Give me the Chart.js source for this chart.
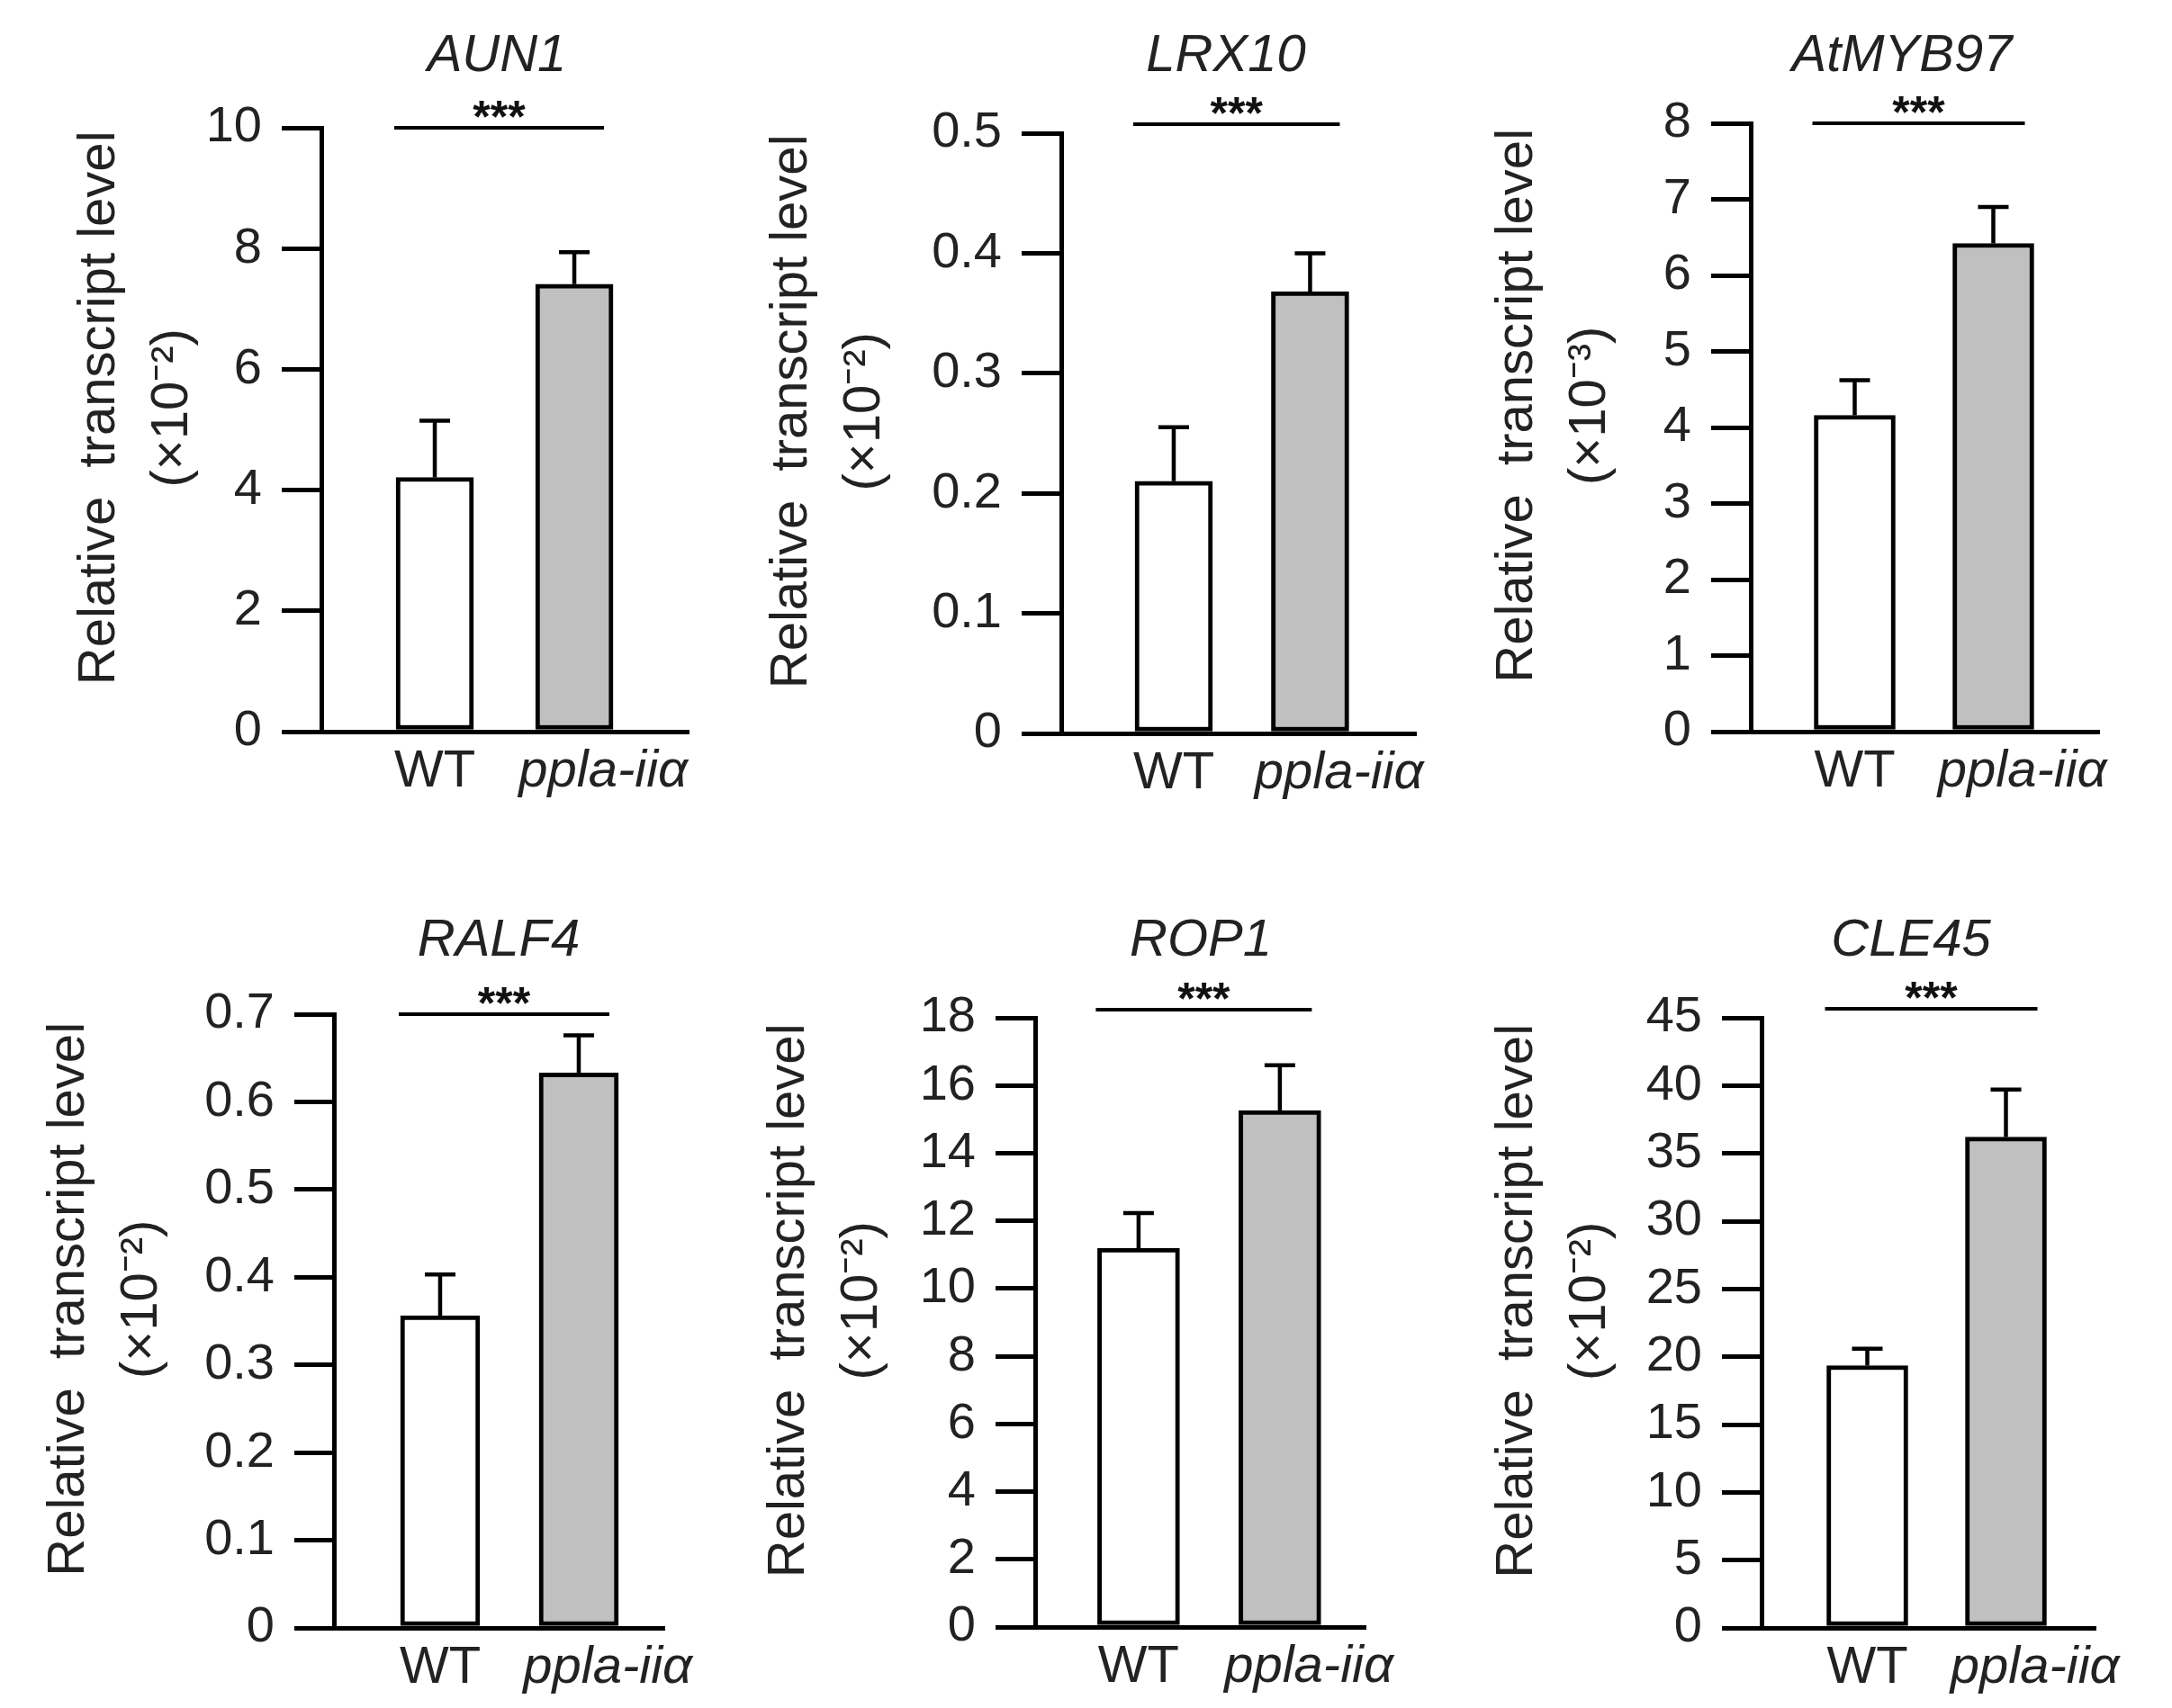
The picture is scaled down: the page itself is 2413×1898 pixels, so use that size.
<!DOCTYPE html>
<html>
<head>
<meta charset="utf-8">
<script src="https://cdn.jsdelivr.net/npm/chart.js@4.4.1/dist/chart.umd.min.js"></script>
<style>
html,body{margin:0;padding:0;background:#fff;}
#wrap{position:relative;width:2413px;height:1898px;overflow:hidden;background:#fff;}
canvas{position:absolute;}
</style>
</head>
<body>
<div id="wrap"></div>
<script>
// ---------------- DATA ----------------
const genes = ['AUN1', 'LRX10', 'AtMYB97', 'RALF4', 'ROP1', 'CLE45'];
const groups = ['WT', 'ppla-iiα'];
const wtMean  = [4.21, 0.21, 4.16, 0.356, 11.19, 19.35];
const wtErr   = [0.94, 0.045, 0.46, 0.047, 1.04, 1.25];
const mutMean = [7.41, 0.368, 6.42, 0.633, 15.26, 36.2];
const mutErr  = [0.53, 0.032, 0.48, 0.043, 1.34, 3.5];
const significance = ['***', '***', '***', '***', '***', '***'];
const yTicks = [
  [0, 2, 4, 6, 8, 10],
  [0, 0.1, 0.2, 0.3, 0.4, 0.5],
  [0, 1, 2, 3, 4, 5, 6, 7, 8],
  [0, 0.1, 0.2, 0.3, 0.4, 0.5, 0.6, 0.7],
  [0, 2, 4, 6, 8, 10, 12, 14, 16, 18],
  [0, 5, 10, 15, 20, 25, 30, 35, 40, 45]
];
const yTickLabels = [
  ['0', '2', '4', '6', '8', '10'],
  ['0', '0.1', '0.2', '0.3', '0.4', '0.5'],
  ['0', '1', '2', '3', '4', '5', '6', '7', '8'],
  ['0', '0.1', '0.2', '0.3', '0.4', '0.5', '0.6', '0.7'],
  ['0', '2', '4', '6', '8', '10', '12', '14', '16', '18'],
  ['0', '5', '10', '15', '20', '25', '30', '35', '40', '45']
];
const yTitle = 'Relative  transcript level';
const yUnits = ['(×10⁻²)', '(×10⁻²)', '(×10⁻³)', '(×10⁻²)', '(×10⁻²)', '(×10⁻²)'];

// ---------------- LAYOUT (pixels, not data) ----------------
const canvasBox = [[0,0,800,960],[800,0,800,960],[1600,0,813,960],[0,960,800,938],[800,960,800,938],[1600,960,813,938]];
const plotBox = [
  {axisX:357, right:765, top:142, bottom:813},
  {axisX:379, right:773, top:148, bottom:815},
  {axisX:345, right:732, top:137, bottom:813},
  {axisX:371, right:738, top:167, bottom:849},
  {axisX:350, right:717, top:171, bottom:848},
  {axisX:357, right:728, top:171, bottom:849}
];
const xRange = [[0.187,2.819],[0.175,2.776],[0.25,2.763],[0.234,2.617],[0.268,2.606],[0.237,2.646]];
const barWidth = [86, 86, 90, 88, 91, 90];
const titlePos = [[552,79],[562,79],[513,79],[554,102],[534,102],[523,102]];
const sigOffset = [0, 10, 0, 0, 9, 10];
const yTitlePad = [70, 39, 45, 36, 36, 45];

const FONT = '"Liberation Sans", Arial, Helvetica, sans-serif';
Chart.defaults.font.family = FONT;
Chart.defaults.color = '#222';

const decor = {
  id: 'decor',
  afterDatasetsDraw(chart, args, opts) {
    const ctx = chart.ctx;
    const meta = chart.getDatasetMeta(0);
    const ys = chart.scales.y;
    const ds = chart.data.datasets[0];
    ctx.save();
    // error bars (upper only)
    ctx.strokeStyle = '#000';
    ctx.lineWidth = 4.5;
    meta.data.forEach((bar, k) => {
      const v = ds.data[k].y;
      const e = ds.errorBars[k];
      const yTop = ys.getPixelForValue(v + e);
      ctx.beginPath();
      ctx.moveTo(bar.x, bar.y);
      ctx.lineTo(bar.x, yTop);
      ctx.moveTo(bar.x - 17, yTop);
      ctx.lineTo(bar.x + 17, yTop);
      ctx.stroke();
    });
    // significance line
    const b0 = meta.data[0], b1 = meta.data[1];
    const ly = ys.getPixelForValue(ys.max) - opts.sigOffset;
    const x0 = b0.x - b0.width / 2 - 2;
    const x1 = b1.x + b1.width / 2 - 10;
    ctx.lineWidth = 4;
    ctx.beginPath();
    ctx.moveTo(x0, ly);
    ctx.lineTo(x1, ly);
    ctx.stroke();
    const sz = 50;
    ctx.fillStyle = '#111';
    ctx.font = 'bold ' + sz + 'px ' + FONT;
    ctx.textAlign = 'center';
    ctx.textBaseline = 'alphabetic';
    ctx.fillText(opts.sig, (x0 + x1) / 2, ly - 24 + 0.575 * sz);
    // gene title
    ctx.fillStyle = '#222';
    ctx.font = 'italic 58px ' + FONT;
    ctx.fillText(opts.gene, opts.titleX, opts.titleBase);
    ctx.restore();
  }
};

const wrap = document.getElementById('wrap');
genes.forEach((gene, i) => {
  const [cx, cy, cw, ch] = canvasBox[i];
  const pb = plotBox[i];
  const cv = document.createElement('canvas');
  cv.width = cw; cv.height = ch;
  cv.style.left = cx + 'px'; cv.style.top = cy + 'px';
  cv.style.width = cw + 'px'; cv.style.height = ch + 'px';
  wrap.appendChild(cv);
  const yt = yTicks[i];
  new Chart(cv, {
    type: 'bar',
    data: {
      datasets: [{
        data: [{x: 1, y: wtMean[i]}, {x: 2, y: mutMean[i]}],
        errorBars: [wtErr[i], mutErr[i]],
        backgroundColor: ['#ffffff', '#c0c0c0'],
        borderColor: '#000',
        borderWidth: 5,
        borderSkipped: false,
        barThickness: barWidth[i]
      }]
    },
    options: {
      responsive: false,
      animation: false,
      devicePixelRatio: 1,
      layout: { padding: { left: 0, top: pb.top, right: cw - pb.right, bottom: 0 } },
      plugins: {
        legend: { display: false },
        tooltip: { enabled: false },
        title: { display: false },
        decor: { gene: gene, sig: significance[i], sigOffset: sigOffset[i], titleX: titlePos[i][0], titleBase: titlePos[i][1] }
      },
      scales: {
        x: {
          type: 'linear',
          min: xRange[i][0],
          max: xRange[i][1],
          bounds: 'data',
          offset: false,
          grid: { display: false, drawTicks: false, offset: false },
          border: { display: true, color: '#000', width: 5 },
          afterBuildTicks: s => { s.ticks = groups.map((g, k) => ({ value: k + 1 })); },
          afterFit: s => { s.height = ch - pb.bottom; },
          ticks: {
            padding: 10,
            color: '#222',
            autoSkip: false,
            maxRotation: 0,
            font: c => ({ size: 58, style: c.index === 1 ? 'italic' : 'normal' }),
            callback: (v, k) => (k === 1 ? '    ' : '') + groups[k]
          }
        },
        y: {
          type: 'linear',
          min: 0,
          max: yt[yt.length - 1],
          afterBuildTicks: s => { s.ticks = yt.map(v => ({ value: v })); },
          afterFit: s => { s.width = pb.axisX; },
          grid: { display: true, drawOnChartArea: false, drawTicks: true, tickLength: 44, tickColor: '#000', tickWidth: 5, color: '#000', lineWidth: 5 },
          border: { display: true, color: '#000', width: 5 },
          ticks: {
            padding: 22,
            color: '#222',
            autoSkip: false,
            font: { size: 56 },
            callback: (v, k) => yTickLabels[i][k]
          },
          title: {
            display: true,
            text: ['   ' + yTitle, '   ' + yUnits[i]],
            color: '#222',
            font: { size: 58, lineHeight: 1.4 },
            padding: { top: yTitlePad[i], bottom: 0 }
          }
        }
      }
    },
    plugins: [decor]
  });
});
</script>
</body>
</html>
